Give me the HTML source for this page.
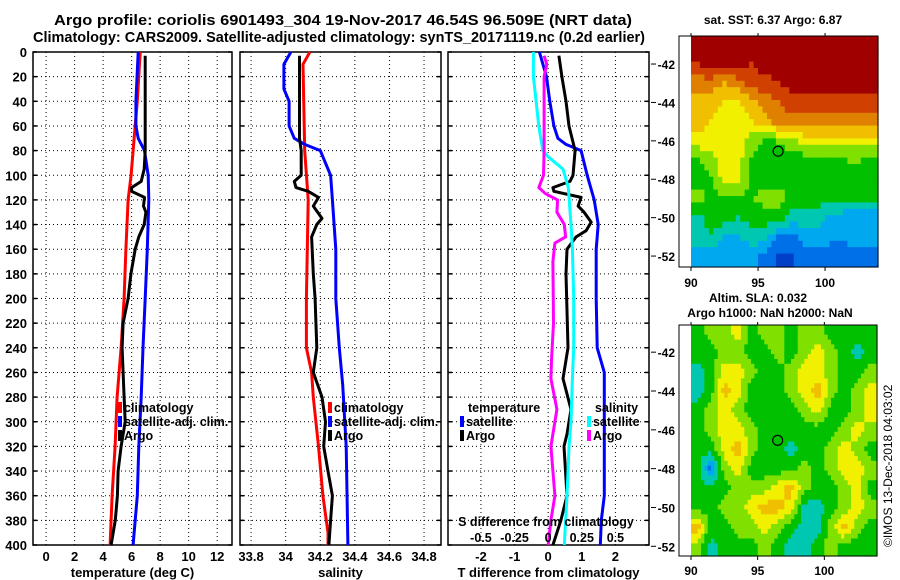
<!DOCTYPE html>
<html><head><meta charset="utf-8"><style>
html,body{margin:0;padding:0;background:#fff;}
svg{display:block;font-family:"Liberation Sans",Arial,sans-serif;font-weight:bold;}
</style></head><body>
<svg id="c" width="900" height="580" viewBox="0 0 900 580">
<text x="343" y="25" font-size="15" text-anchor="middle" textLength="578" lengthAdjust="spacingAndGlyphs">Argo profile: coriolis 6901493_304 19-Nov-2017 46.54S 96.509E (NRT data)</text>
<text x="339" y="42" font-size="15" text-anchor="middle" textLength="612" lengthAdjust="spacingAndGlyphs">Climatology: CARS2009. Satellite-adjusted climatology: synTS_20171119.nc (0.2d earlier)</text>
<text x="773" y="24" font-size="12" text-anchor="middle">sat. SST: 6.37 Argo: 6.87</text>
<text x="758" y="302" font-size="12" text-anchor="middle">Altim. SLA: 0.032</text>
<text x="770" y="317" font-size="12" text-anchor="middle">Argo h1000: NaN h2000: NaN</text>
<text transform="translate(892,547) rotate(-90)" font-size="12" font-weight="normal">©IMOS 13-Dec-2018 04:03:02</text>
</svg>
<script>
// ---------- data ----------
const tempDepthClim=[0,40,80,100,120,160,200,240,280,320,360,400];
const tempClim=[6.6,6.4,6.1,5.96,5.75,5.6,5.47,5.26,4.98,4.84,4.63,4.49];
const tempDepthSat=[0,40,60,70,80,100,120,160,200,240,280,320,360,400];
const tempSat=[6.46,6.3,6.3,6.46,6.9,7.16,7.2,7.1,6.95,6.8,6.67,6.5,6.4,6.1];
const tempDepthArgo=[3,60,80,95,105,110,113,118,125,130,140,150,160,180,200,220,240,260,280,300,320,340,360,380,400];
const tempArgo=[6.95,6.95,6.95,6.88,6.67,6.0,6.0,6.9,6.83,7.0,6.88,6.5,6.25,5.95,5.75,5.4,5.33,5.4,5.47,5.55,5.26,5.05,5.0,4.85,4.56];

const salDepthClim=[0,10,80,120,200,240,260,280,320,360,390,400];
const salClim=[34.14,34.10,34.11,34.13,34.12,34.12,34.15,34.16,34.19,34.215,34.245,34.245];
const salDepthSat=[0,10,30,40,60,70,75,80,100,120,140,160,200,240,270,320,400];
const salSat=[34.03,33.99,33.99,34.02,34.02,34.05,34.11,34.2,34.26,34.27,34.28,34.29,34.29,34.31,34.33,34.35,34.36];
const salDepthArgo=[3,70,80,100,105,110,113,118,125,135,140,150,180,200,240,260,280,300,320,340,360,380,400];
const salArgo=[34.08,34.08,34.09,34.09,34.05,34.06,34.13,34.19,34.16,34.21,34.18,34.15,34.16,34.17,34.18,34.16,34.21,34.23,34.22,34.245,34.27,34.26,34.25];

const dTDepthSat=[0,20,40,60,70,75,80,100,120,140,160,200,240,260,300,360,380,400];
const dTSat=[-0.26,-0.05,0.05,0.17,0.29,0.53,0.98,1.16,1.37,1.49,1.43,1.43,1.46,1.67,1.67,1.67,1.58,1.55];
const dTDepthArgo=[3,20,40,60,80,100,105,110,113,118,125,130,138,145,150,160,180,240,265,290,310,320,360,380,400];
const dTArgo=[0.32,0.41,0.53,0.62,0.8,0.74,0.65,0.14,0.17,0.98,0.89,1.07,1.28,1.13,0.83,0.56,0.53,0.59,0.44,0.68,0.56,0.47,0.56,0.38,0.14];
const dSDepthSat=[0,20,40,60,80,85,95,110,140,160,200,240,265,300,320,360,400];
const dSSat=[-0.11,-0.11,-0.09,-0.07,-0.04,0,0.11,0.15,0.17,0.18,0.19,0.19,0.18,0.17,0.155,0.14,0.12];
const dSDepthArgo=[3,10,20,80,100,110,115,120,130,140,150,155,170,220,250,265,290,320,360,380,400];
const dSArgo=[-0.03,-0.01,-0.03,-0.03,-0.035,-0.07,-0.02,0.07,0.065,0.12,0.13,0.05,0.035,0.04,0.025,0.02,0.065,0.02,0.05,0.02,0.0];

const depthTicks=[0,20,40,60,80,100,120,140,160,180,200,220,240,260,280,300,320,340,360,380,400];
const tempTicks=[0,2,4,6,8,10,12];
const salTicks=[33.8,34,34.2,34.4,34.6,34.8];
const salTickLabels=["33.8","34","34.2","34.4","34.6","34.8"];
const dTTicks=[-2,-1,0,1,2];
const dSTicks=[-0.5,-0.25,0,0.25,0.5];
const dSTickLabels=["-0.5","-0.25","0","0.25","0.5"];
const mapLonTicks=[90,95,100];
const mapLatTicks=[-42,-44,-46,-48,-50,-52];

// SST map levels (rows lat -41..-52, cols lon 90..103)
const sstGrid=[
[10,10,10,10,10,10,10,10,10,10,10,10,10,10],
[9.5,10,10,10,9.5,10,10,10,10,10,10,10,10,10],
[8,8,7.5,8,9,9,9.5,10,10,10,10,10,10,10],
[7,7,6.5,6.5,7,8,8.5,9,9,9,9,9,9,9],
[7,6.5,6,6,6.5,7,8,8,8,8,8,8,8,8],
[6,6,6,6,5,4.3,4.6,5,6,6,6,6,6,6],
[4.5,5,6,6,4.3,4,4,4,4,4,4,4.5,4.6,4.2],
[4,4.3,6,6,4,4,4,4,4,4,4,4,4,4],
[5,4.2,4.3,4.5,4.3,5,5,4.3,4,4,3.6,3.6,3.6,3.6],
[3,4,4,3.4,4,4,4,3,3,3,2.2,2,2,2],
[3,3.5,2.3,2.3,3,3,1.4,1.2,2,2,2,2,2,1.8],
[2,2,2,2,2,1.2,0.3,0.3,1,1,0.6,0.6,1,1.3]];
const slaGrid=[
[4,5,5,6,4,5,5,4,5,5,4,4,4,4],
[4,4,5,5,4,4,5,4,5,6,5,4,3,4],
[3,4,6,6,5,4,4,5,6,6,5,4,4,5],
[3,4,7,6,4,4,4,5,6,7,5,4,5,6],
[4,5,6,5,4,4,4,4,5,6,4,4,5,6],
[4,5,6,6,5,4,4,4,4,4,4,5,6,5],
[4,4,6,7,5,4,4,3,4,4,5,6,5,4],
[4,1,5,6,4,4,4,4,5,4,5,6,6,5],
[4,4,4,5,5,5,6,7,5,4,4,5,6,4],
[4,4,5,5,6,7,7,6,3,3,4,5,6,5],
[7,4,4,5,5,6,5,4,3,3,5,7,5,4],
[5,3,4,4,4,5,4,3,3,4,5,4,4,4]];
const palette=["#0040c8","#0070e8","#00a8f0","#00c8b0","#00c000","#80e000","#f0f000","#f0c000","#e08000","#d04000","#a00000"];

// ---------- drawing ----------
const NS="http://www.w3.org/2000/svg";
const svg=document.getElementById('c');
function mk(tag,at,parent){const e=document.createElementNS(NS,tag);for(const k in at)e.setAttribute(k,at[k]);(parent||svg).appendChild(e);return e;}
const Y0=52,Y1=545;
const yD=d=>Y0+(d/400)*(Y1-Y0);

function panel(name,x0,x1,dmin,dmax,xt,xtl,title,labelsLeft){
  const g=mk('g',{});
  
  
  const sx=v=>x0+(v-dmin)/(dmax-dmin)*(x1-x0);
  depthTicks.forEach(d=>{
    const l=mk('line',{x1:x0,x2:x1,y1:yD(d),y2:yD(d),stroke:'#000','stroke-width':1,'stroke-dasharray':'1,3'},g);
    
    
    mk('line',{x1:x0,x2:x0+4,y1:yD(d),y2:yD(d),stroke:'#000','stroke-width':1.5},g);
    mk('line',{x1:x1-4,x2:x1,y1:yD(d),y2:yD(d),stroke:'#000','stroke-width':1.5},g);
    if(labelsLeft){const t=mk('text',{x:27,y:yD(d)+5,'font-size':13,'text-anchor':'end'},g);t.textContent=d;
      
      }
  });
  xt.forEach((v,i)=>{
    const l=mk('line',{x1:sx(v),x2:sx(v),y1:Y0,y2:Y1,stroke:'#000','stroke-width':1,'stroke-dasharray':'1,3'},g);
    
    
    const t=mk('text',{x:sx(v),y:561,'font-size':13,'text-anchor':'middle'},g);t.textContent=xtl?xtl[i]:v;
    
    
  });
  const r=mk('rect',{x:x0,y:Y0,width:x1-x0,height:Y1-Y0,fill:'none',stroke:'#000','stroke-width':1.5},g);
  
  
  const t=mk('text',{x:(x0+x1)/2,y:577,'font-size':13,'text-anchor':'middle'},g);t.textContent=title;
  
  
  return {g,sx};
}
function series(p,depths,vals,color,name){
  const pts=depths.map((d,i)=>p.sx(vals[i]).toFixed(1)+','+yD(d).toFixed(1)).join(' ');
  const l=mk('polyline',{points:pts,fill:'none',stroke:color,'stroke-width':3,'stroke-linejoin':'round'},p.g);
  
  
}
function legend(x,y,color,label,name){
  const r=mk('rect',{x:x,y:y-10,width:4,height:11,fill:color});
  
  
  const t=mk('text',{x:x+6,y:y,'font-size':12.5});t.textContent=label;
  
  
}

const p1=panel('temperature-panel',33,232,-0.92,13.04,tempTicks,null,'temperature (deg C)',true);
series(p1,tempDepthClim,tempClim,'#ff0000','temp-climatology-line');
series(p1,tempDepthSat,tempSat,'#0000ff','temp-satellite-line');
series(p1,tempDepthArgo,tempArgo,'#000000','temp-argo-line');
legend(118,412,'#ff0000','climatology','legend-entry-climatology');
legend(118,426,'#0000ff','satellite-adj. clim.','legend-entry-satellite');
legend(118,440,'#000000','Argo','legend-entry-argo');

const p2=panel('salinity-panel',240,441,33.736,34.898,salTicks,salTickLabels,'salinity',false);
series(p2,salDepthClim,salClim,'#ff0000','sal-climatology-line');
series(p2,salDepthSat,salSat,'#0000ff','sal-satellite-line');
series(p2,salDepthArgo,salArgo,'#000000','sal-argo-line');
legend(328,412,'#ff0000','climatology','legend-entry-climatology-sal');
legend(328,426,'#0000ff','satellite-adj. clim.','legend-entry-satellite-sal');
legend(328,440,'#000000','Argo','legend-entry-argo-sal');

const p3=panel('difference-panel',448,649,-2.98,3.0,dTTicks,null,'T difference from climatology',false);
const pS={g:p3.g,sx:v=>p3.sx(v*4)};
series(p3,dTDepthSat,dTSat,'#0000ff','dT-satellite-line');
series(p3,dTDepthArgo,dTArgo,'#000000','dT-argo-line');
series(pS,dSDepthSat,dSSat,'#00ffff','dS-satellite-line');
series(pS,dSDepthArgo,dSArgo,'#ff00ff','dS-argo-line');
{const t=mk('text',{x:468,y:412,'font-size':12.5});t.textContent='temperature';


const t2=mk('text',{x:595,y:412,'font-size':12.5});t2.textContent='salinity';

}
legend(460,426,'#0000ff','satellite','legend-entry-dT-satellite');
legend(460,440,'#000000','Argo','legend-entry-dT-argo');
legend(587,426,'#00ffff','satellite','legend-entry-dS-satellite');
legend(587,440,'#ff00ff','Argo','legend-entry-dS-argo');
{const t=mk('text',{x:546,y:526,'font-size':12.5,'text-anchor':'middle'});t.textContent='S difference from climatology';

}
dSTicks.forEach((v,i)=>{const t=mk('text',{x:pS.sx(v),y:542,'font-size':12.5,'text-anchor':'middle'});t.textContent=dSTickLabels[i];

});

// maps
function sample(grid,r,c){
  const R=grid.length-1,C=grid[0].length-1;
  r=Math.max(0,Math.min(R,r));c=Math.max(0,Math.min(C,c));
  const r0=Math.floor(r),c0=Math.floor(c),r1=Math.min(R,r0+1),c1=Math.min(C,c0+1);
  const fr=r-r0,fc=c-c0;
  return grid[r0][c0]*(1-fr)*(1-fc)+grid[r0][c1]*(1-fr)*fc+grid[r1][c0]*fr*(1-fc)+grid[r1][c1]*fr*fc;
}
function map(name,grid,fx0,fx1,fy0,fy1,latTop,latBot,lonLabY,sub){
  const g=mk('g',{});
  
  
  const dx0=691, lonL=90, lonR=103.95;
  const sx=lon=>dx0+(lon-lonL)/(lonR-lonL)*(fx1-dx0);
  const sy=lat=>fy0+(latTop-lat)/(latTop-latBot)*(fy1-fy0);
  mk('rect',{x:fx0,y:fy0,width:fx1-fx0,height:fy1-fy0,fill:'#fff'},g);
  const nr=Math.ceil((latTop-latBot)*sub), nc=Math.ceil((lonR-lonL)*sub);
  for(let i=0;i<nr;i++)for(let j=0;j<nc;j++){
    const la=latTop-i/sub, lo=lonL+j/sub;
    const r=(-40.5-(la-0.5/sub))-0.5, c=(lo+0.5/sub)-90-0.5;
    const v=Math.round(sample(grid,r,c));
    const x0=sx(lo),x1=Math.min(fx1,sx(lo+1/sub));
    const y0=sy(la),y1=Math.min(fy1,sy(la-1/sub));
    const cell=mk('rect',{x:x0.toFixed(1),y:y0.toFixed(1),width:(x1-x0+0.6).toFixed(1),height:(y1-y0+0.6).toFixed(1),fill:palette[Math.max(0,Math.min(10,v))]},g);
    
    
  }
  const f=mk('rect',{x:fx0,y:fy0,width:fx1-fx0,height:fy1-fy0,fill:'none',stroke:'#000','stroke-width':1},g);
  
  
  const circ=mk('circle',{cx:sx(96.5),cy:sy(-46.54),r:5,fill:'none',stroke:'#000','stroke-width':1.2},g);
  
  
  mapLatTicks.forEach(la=>{
    mk('line',{x1:651,x2:656,y1:sy(la),y2:sy(la),stroke:'#000'},g);
    const t=mk('text',{x:675,y:sy(la)+5,'font-size':12,'text-anchor':'end'},g);t.textContent=la;
    
    
  });
  mapLonTicks.forEach(lo=>{
    mk('line',{x1:sx(lo),x2:sx(lo),y1:fy1,y2:fy1+4,stroke:'#000'},g);
    mk('line',{x1:sx(lo),x2:sx(lo),y1:fy0-3,y2:fy0,stroke:'#000'},g);
    const t=mk('text',{x:sx(lo),y:lonLabY,'font-size':12,'text-anchor':'middle'},g);t.textContent=lo;
    
    
  });
}
map('sst-map',sstGrid,679,878,36,267,-40.54,-52.57,287,3);
map('sla-map',slaGrid,679,877,325,556,-40.6,-52.5,575,4);
</script>
</body></html>
